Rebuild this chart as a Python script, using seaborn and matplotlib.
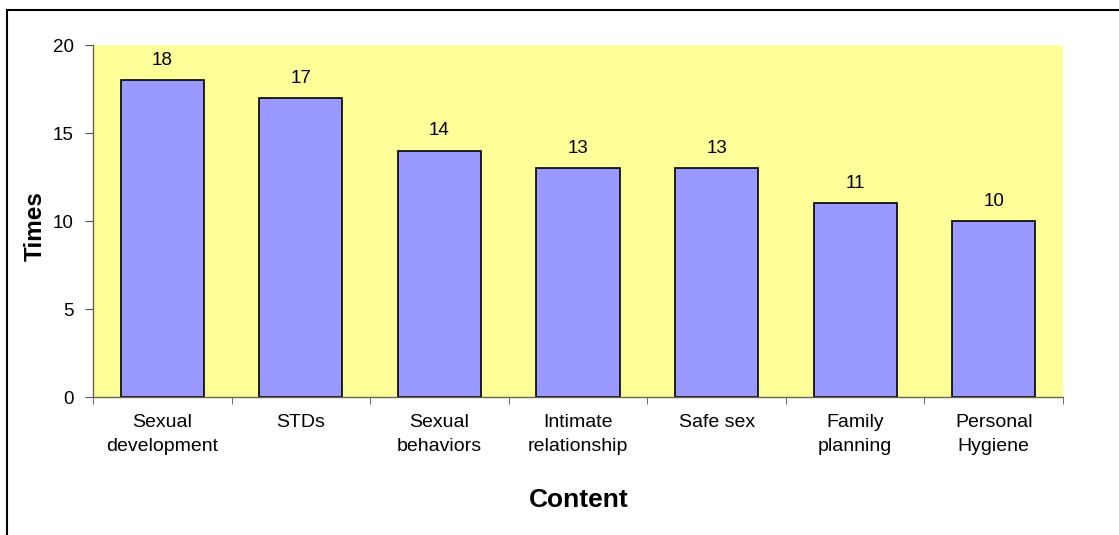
import matplotlib
matplotlib.use("Agg")
import matplotlib.pyplot as plt
import matplotlib.patches as patches
import numpy as np
import pandas as pd
import seaborn as sns

# chart data
categories = ["Sexual\ndevelopment", "STDs", "Sexual\nbehaviors", "Intimate\nrelationship",
              "Safe sex", "Family\nplanning", "Personal\nHygiene"]
times = [18, 17, 14, 13, 13, 11, 10]

df = pd.DataFrame({"Content": categories, "Times": times})

sns.set_style("white")
plt.rcParams['font.family'] = ['Liberation Sans', 'DejaVu Sans']
plt.rcParams['text.color'] = 'black'
plt.rcParams['xtick.color'] = 'black'
plt.rcParams['ytick.color'] = 'black'

fig = plt.figure(figsize=(11.19, 5.35), dpi=100)
ax = fig.add_axes([93 / 1119, 138 / 535, 970 / 1119, 352 / 535])
ax.set_facecolor("#FFFF99")

sns.barplot(data=df, x="Content", y="Times", color="#9999FF", width=0.6,
            edgecolor="black", linewidth=1.2, saturation=1, ax=ax)

ax.bar_label(ax.containers[0], fontsize=13.5, padding=8, color="black")

ax.set_ylim(0, 20)
ax.set_yticks([0, 5, 10, 15, 20])
ax.set_xlim(-0.5, len(categories) - 0.5)

# category labels without ticks, ticks at category boundaries
ax.set_xticks(range(len(categories)))
ax.set_xticklabels(categories, fontsize=14, linespacing=1.55)
ax.tick_params(axis="x", which="major", length=0, pad=12, labelcolor="black")
ax.set_xticks(np.arange(-0.5, len(categories)), minor=True)
ax.tick_params(axis="x", which="minor", length=5, color="#555555", direction="out", bottom=True)
ax.tick_params(axis="y", length=6, color="#555555", direction="out", left=True, labelsize=13.5,
               pad=8, labelcolor="black")

for side in ["top", "right"]:
    ax.spines[side].set_visible(False)
for side in ["left", "bottom"]:
    ax.spines[side].set_color("#666655")
    ax.spines[side].set_linewidth(1.0)

ax.set_xlabel("")
ax.set_ylabel("")
fig.text(35 / 1119, 1 - 226 / 535, "Times", rotation=90, fontsize=17.5, fontweight="bold",
         ha="center", va="center", color="black")
fig.text(579 / 1119, 1 - 500 / 535, "Content", fontsize=19, fontweight="bold",
         ha="center", va="center", color="black")

# outer frame (right and bottom edges cut off)
frame = patches.Rectangle((7 / 1119, -0.1), 1.2, 1 - 10 / 535 + 0.1, transform=fig.transFigure,
                          fill=False, edgecolor="black", linewidth=1.5)
fig.patches.append(frame)

fig.savefig("out.png", dpi=100)
